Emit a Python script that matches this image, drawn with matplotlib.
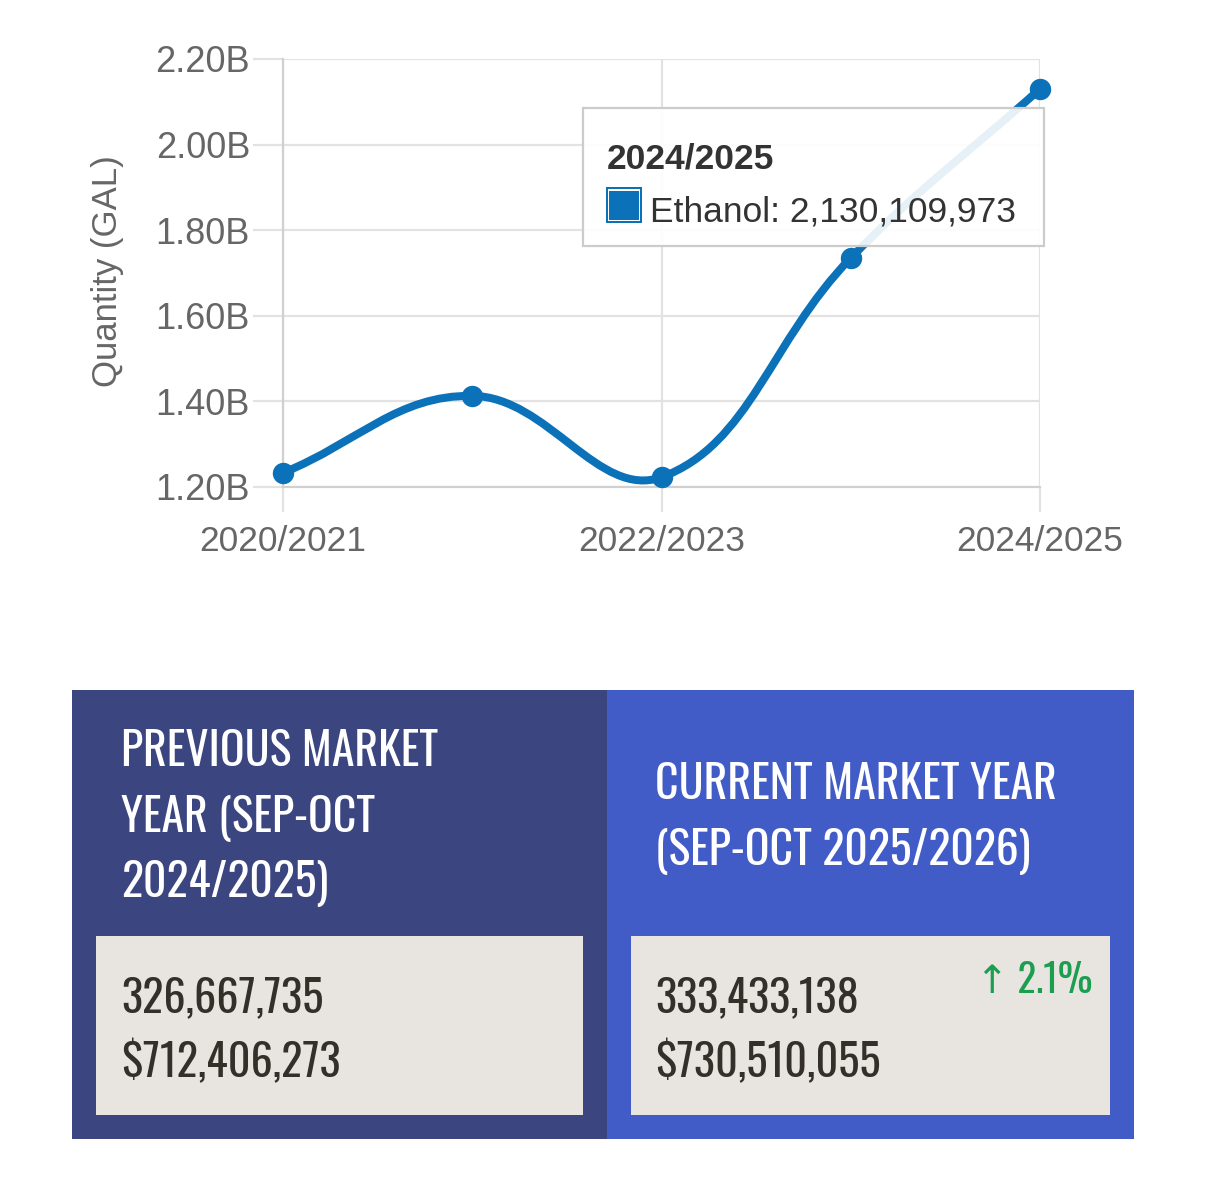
import numpy as np
import matplotlib
matplotlib.use("Agg")
import matplotlib.pyplot as plt
from matplotlib.path import Path
from matplotlib.patches import PathPatch, Rectangle
from matplotlib import font_manager
from matplotlib.textpath import TextPath
from matplotlib.font_manager import FontProperties

# ---------------- data ----------------
years = ["2020/2021", "2021/2022", "2022/2023", "2023/2024", "2024/2025"]
ethanol = [1.233e9, 1.413e9, 1.223e9, 1.735e9, 2.130109973e9]
y_ticks = [1.2e9, 1.4e9, 1.6e9, 1.8e9, 2.0e9, 2.2e9]
y_tick_labels = ["1.20B", "1.40B", "1.60B", "1.80B", "2.00B", "2.20B"]
y_label = "Quantity (GAL)"
tooltip_title = "2024/2025"
tooltip_series = "Ethanol"
tooltip_value = 2130109973

prev_title_lines = ["PREVIOUS MARKET", "YEAR (SEP-OCT", "2024/2025)"]
cur_title_lines = ["CURRENT MARKET YEAR", "(SEP-OCT 2025/2026)"]
prev_values = ["326,667,735", "$712,406,273"]
cur_values = ["333,433,138", "$730,510,055"]
change_text = "\u2191 2.1%"

# ---------------- fonts ----------------
names = {f.name for f in font_manager.fontManager.ttflist}
cond = None
for cand in ["Oswald", "Roboto Condensed", "Liberation Sans Narrow", "Open Sans Condensed"]:
    if cand in names:
        cond = cand
        break
if cond is None:
    cond_kw = dict(family=["DejaVu Sans", "Liberation Sans"], stretch="condensed")
else:
    cond_kw = dict(family=[cond, "DejaVu Sans"])
main_font = ["Liberation Sans", "DejaVu Sans"]

W, H = 1206, 1183
fig = plt.figure(figsize=(W / 100, H / 100), dpi=100)
fig.patch.set_facecolor("white")


def fx(px):
    return px / W


def fy(py):
    return 1 - py / H


PX = 0.72  # points per pixel

# ---------------- chart ----------------
L, R, T, B = 283, 1040, 59, 487
ax = fig.add_axes([fx(L), fy(B), fx(R - L), (B - T) / H])
ax.set_xlim(0, len(years) - 1)
ax.set_ylim(y_ticks[0], y_ticks[-1])
grid_c = "#e2e2e2"
ax.set_yticks(y_ticks)
ax.set_yticklabels(y_tick_labels)
xt = list(range(0, len(years), 2))
ax.set_xticks(xt)
ax.set_xticklabels([years[i] for i in xt])
ax.grid(True, color=grid_c, lw=2.2 * PX)
ax.set_axisbelow(True)
for s in ["top", "right"]:
    ax.spines[s].set_visible(False)
for s in ["left", "bottom"]:
    ax.spines[s].set_color("#d0d0d0")
    ax.spines[s].set_linewidth(2.2 * PX)
ax.tick_params(axis="y", length=30 * PX, width=2.2 * PX, color=grid_c, pad=3 * PX,
               labelsize=26, labelcolor="#666666")
ax.tick_params(axis="x", length=25 * PX, width=2.2 * PX, color=grid_c, pad=13 * PX,
               labelsize=25.5, labelcolor="#666666")
for lab in ax.get_xticklabels() + ax.get_yticklabels():
    lab.set_family(main_font)

fig.text(fx(107), fy(271), y_label, rotation=90, ha="center", va="center",
         fontsize=25, color="#666666", family=main_font)

# Chart.js style spline (tension 0.4) computed in display space
line_c = "#0b72b9"
xs = np.arange(len(years), dtype=float)
ys = np.array(ethanol, dtype=float)
pts = ax.transData.transform(np.column_stack([xs, ys]))
t = 0.4
n = len(pts)
cp_prev = np.zeros_like(pts)
cp_next = np.zeros_like(pts)
for i in range(n):
    p0 = pts[i - 1] if i > 0 else pts[i]
    p1 = pts[i]
    p2 = pts[i + 1] if i < n - 1 else pts[i]
    d01 = np.hypot(*(p1 - p0))
    d12 = np.hypot(*(p2 - p1))
    tot = d01 + d12
    s01 = d01 / tot if tot else 0
    s12 = d12 / tot if tot else 0
    cp_prev[i] = p1 - t * s01 * (p2 - p0)
    cp_next[i] = p1 + t * s12 * (p2 - p0)
verts = [pts[0]]
codes = [Path.MOVETO]
for i in range(n - 1):
    verts += [cp_next[i], cp_prev[i + 1], pts[i + 1]]
    codes += [Path.CURVE4] * 3
inv = ax.transData.inverted()
verts_data = inv.transform(np.array(verts))
ax.add_patch(PathPatch(Path(verts_data, codes), fill=False, edgecolor=line_c,
                       lw=8 * PX, capstyle="round", joinstyle="round",
                       clip_on=False, zorder=3))
ax.plot(xs, ys, "o", ms=20 * PX, color=line_c, clip_on=False, zorder=4)

# tooltip
tx0, tx1, ty0, ty1 = 583, 1044, 108, 246
fig.add_artist(Rectangle((fx(tx0), fy(ty1)), fx(tx1 - tx0), (ty1 - ty0) / H,
                         transform=fig.transFigure, facecolor="white", alpha=0.9,
                         edgecolor="none", zorder=5))
fig.add_artist(Rectangle((fx(tx0), fy(ty1)), fx(tx1 - tx0), (ty1 - ty0) / H,
                         transform=fig.transFigure, facecolor="none",
                         edgecolor="#cccccc", lw=2.2 * PX, zorder=6))
fig.text(fx(607), fy(169), tooltip_title, ha="left", va="baseline", fontsize=25.5,
         fontweight="bold", color="#333333", family=main_font, zorder=7)
sq = [(606, 187, 36, line_c), (608, 189, 32, "white"), (609.5, 190.5, 29, line_c)]
for (sx, sy, sw, sc) in sq:
    fig.add_artist(Rectangle((fx(sx), fy(sy + sw)), fx(sw), sw / H,
                             transform=fig.transFigure, facecolor=sc,
                             edgecolor="none", zorder=7))
fig.text(fx(650), fy(221), f"{tooltip_series}: {tooltip_value:,}", ha="left",
         va="baseline", fontsize=25.5, color="#333333", family=main_font, zorder=7)

# ---------------- bottom panels ----------------


def cap_size(target_cap_px, base=30):
    # font size whose capital letters are target_cap_px tall
    fp = FontProperties(family=cond_kw["family"], stretch=cond_kw.get("stretch", "normal"))
    tp = TextPath((0, 0), "H", size=base, prop=fp)
    capp = tp.get_extents().height  # in points
    return base * (target_cap_px * PX) / capp


panels = [
    (72, 607, "#3b4680", 96, 583),
    (607, 1134, "#425cc7", 631, 1110),
]
for (x0, x1, c, bx0, bx1) in panels:
    fig.add_artist(Rectangle((fx(x0), fy(1139)), fx(x1 - x0), (1139 - 690) / H,
                             transform=fig.transFigure, facecolor=c, edgecolor="none"))
    fig.add_artist(Rectangle((fx(bx0), fy(1115)), fx(bx1 - bx0), (1115 - 936) / H,
                             transform=fig.transFigure, facecolor="#e8e5e1", edgecolor="none"))

# slightly larger than cap-height match to compensate for the reference's letter tracking
title_size = cap_size(35) * 1.06
num_size = cap_size(33.5) * 1.07
chg_size = cap_size(30) * 1.05

for txt, yb in zip(prev_title_lines, [766, 832, 897]):
    fig.text(fx(121), fy(yb), txt, ha="left", va="baseline", fontsize=title_size,
             color="white", **cond_kw)
for txt, yb in zip(cur_title_lines, [799, 865]):
    fig.text(fx(655), fy(yb), txt, ha="left", va="baseline", fontsize=title_size,
             color="white", **cond_kw)
for txt, yb in zip(prev_values, [1012, 1077]):
    fig.text(fx(121), fy(yb), txt, ha="left", va="baseline", fontsize=num_size,
             color="#352f2a", **cond_kw)
for txt, yb in zip(cur_values, [1012, 1077]):
    fig.text(fx(655), fy(yb), txt, ha="left", va="baseline", fontsize=num_size,
             color="#352f2a", **cond_kw)
fig.text(fx(1093), fy(993), change_text, ha="right", va="baseline", fontsize=chg_size,
         color="#1c9e50", **cond_kw)

fig.savefig("out.png", dpi=100)
